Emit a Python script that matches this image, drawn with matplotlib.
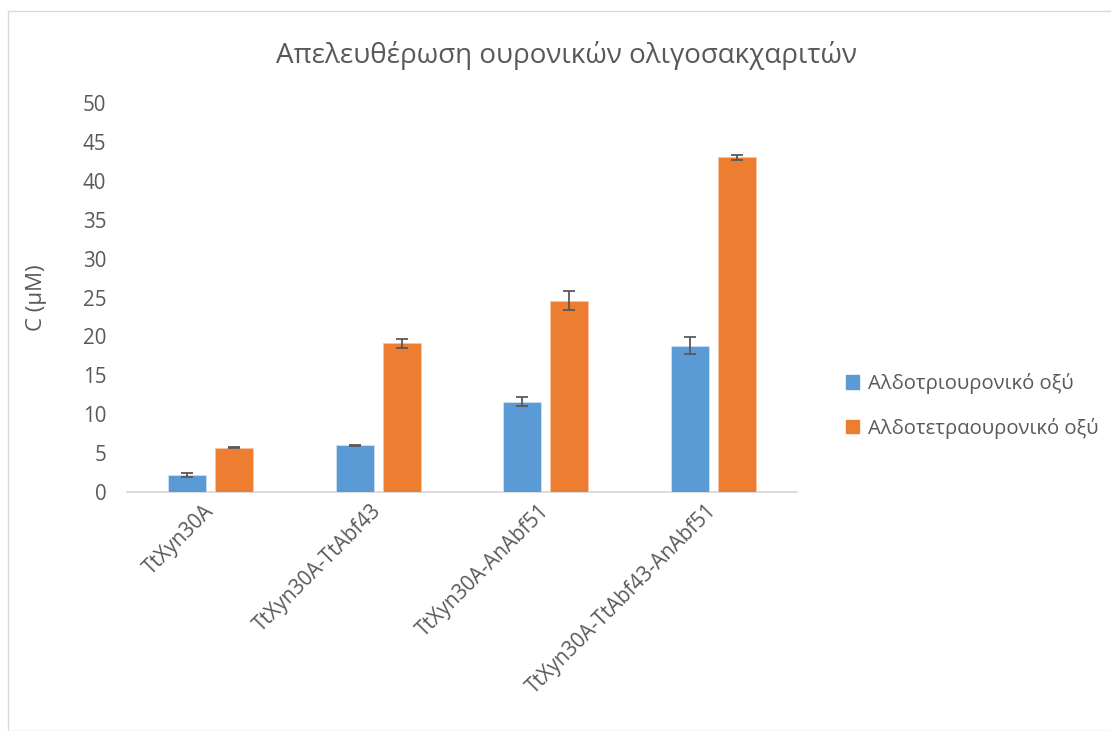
import numpy as np
import matplotlib
matplotlib.use("Agg")
import matplotlib.pyplot as plt
from matplotlib.patches import Rectangle, Patch

plt.rcParams["font.family"] = ["Open Sans", "DejaVu Sans"]

categories = ["TtXyn30A", "TtXyn30A-TtAbf43", "TtXyn30A-AnAbf51", "TtXyn30A-TtAbf43-AnAbf51"]
series_names = ["Αλδοτριουρονικό οξύ", "Αλδοτετραουρονικό οξύ"]
tri_vals = [2.2, 6.0, 11.6, 18.8]
tri_err = [0.3, 0.05, 0.55, 1.1]
tetra_vals = [5.7, 19.1, 24.6, 43.0]
tetra_err = [0.05, 0.55, 1.25, 0.3]

BLUE = "#5B9BD5"
ORANGE = "#ED7D31"
TXT = "#595959"

fig = plt.figure(figsize=(11.11, 7.31), dpi=100)
# chart-area border (Excel style)
fig.patches.append(Rectangle((8/1111, 0), 1.2, 1 - 11/731, transform=fig.transFigure,
                             fill=False, edgecolor="#d9d9d9", lw=1.0))
ax = fig.add_axes([127/1111, 1 - 492/731, 670/1111, 389/731])

x = np.arange(len(categories))
w = 0.227; off = 0.14
ekw = dict(ecolor=TXT, elinewidth=1.3, capsize=4.5, capthick=1.3)
ax.bar(x - off, tri_vals, w, color=BLUE, edgecolor="#cfe0f2", lw=0.6,
       yerr=tri_err, error_kw=ekw, zorder=3)
ax.bar(x + off, tetra_vals, w, color=ORANGE, edgecolor="#f6c4a3", lw=0.6,
       yerr=tetra_err, error_kw=ekw, zorder=3)

ax.set_xlim(-0.5, 3.5)
ax.set_ylim(0, 50)
ax.set_yticks(range(0, 51, 5))
ax.tick_params(axis="y", length=0, pad=15, labelsize=14.8, labelcolor=TXT)
ax.tick_params(axis="x", length=0, pad=8, labelsize=14.8, labelcolor=TXT)
ax.set_xticks(x)
ax.set_xticklabels(categories, rotation=45, ha="right", va="center", rotation_mode="anchor")
for lab in ax.get_xticklabels():
    lab.set_y(-0.012)
for s in ["top", "right", "left"]:
    ax.spines[s].set_visible(False)
ax.spines["bottom"].set_color("#d9d9d9")
ax.spines["bottom"].set_linewidth(1.3)

ax.set_ylabel("C (μM)", fontsize=16, color=TXT, labelpad=26)
fig.text(567/1111, 1 - 55/731, "Απελευθέρωση ουρονικών ολιγοσακχαριτών",
         fontsize=20, color=TXT, ha="center", va="center")

handles = [Patch(color=BLUE), Patch(color=ORANGE)]
fig.legend(handles, series_names, loc="center left", bbox_to_anchor=(828/1111, 1 - 406/731),
           frameon=False, fontsize=14.6, labelcolor=TXT, handlelength=0.65, handleheight=0.65,
           handletextpad=0.4, labelspacing=1.15)

fig.savefig("out.png", dpi=100, facecolor="white")
